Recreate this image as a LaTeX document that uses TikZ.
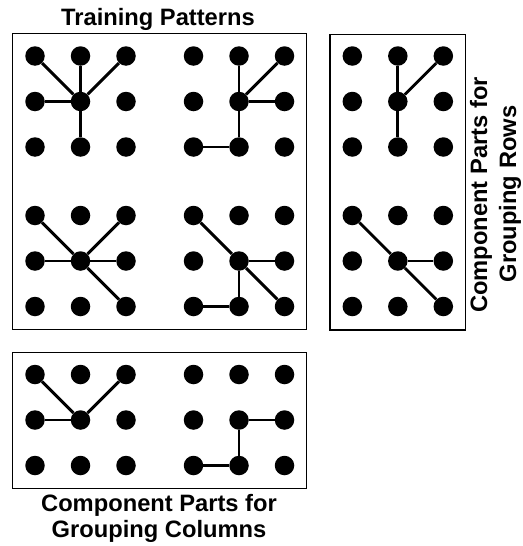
\documentclass[tikz,border=0pt]{standalone}
\usepackage{fontspec}
\setmainfont{Liberation Sans}
\tikzset{
  dot/.style={circle, fill=black, inner sep=0pt, minimum size=19.5pt},
  link/.style={line width=2.9pt},
  frame/.style={draw, line width=1.3pt},
  lbl/.style={font=\bfseries\fontsize{23.7}{27}\selectfont, inner sep=0pt},
}
\newcommand{\dotgrid}[3]{%
  \foreach \r in {1,2,3}{\foreach \c in {1,2,3}{
    \node[dot] (#1-\r-\c) at ({#2+(\c-1)*45.5}, {-(#3+(\r-1)*45.5)}) {};
  }}}
\begin{document}
\begin{tikzpicture}[x=1pt,y=1pt]
\useasboundingbox (0,0) rectangle (522,-546);
% frames
\draw[frame] (12.3,-33.5) rectangle (306.7,-329.5);
\draw[frame] (330,-34.5) rectangle (465.7,-330);
\draw[frame] (12.3,-352.5) rectangle (306.7,-488.3);
% grids
\dotgrid{A}{35}{56}
\dotgrid{B}{193.5}{56}
\dotgrid{C}{35}{215.5}
\dotgrid{D}{193.5}{215.5}
\dotgrid{E}{352.3}{56}
\dotgrid{F}{352.3}{215.5}
\dotgrid{G}{35}{374.5}
\dotgrid{H}{193.5}{374.5}
% connectors
\draw[link] (A-2-2) -- (A-1-1);
\draw[link] (A-2-2) -- (A-1-2);
\draw[link] (A-2-2) -- (A-1-3);
\draw[link] (A-2-2) -- (A-2-1);
\draw[link] (A-2-2) -- (A-3-2);
\draw[link] (B-2-2) -- (B-1-2);
\draw[link] (B-2-2) -- (B-1-3);
\draw[link] (B-2-2) -- (B-2-3);
\draw[link] (B-2-2) -- (B-3-2);
\draw[link] (B-3-2) -- (B-3-1);
\draw[link] (C-2-2) -- (C-1-1);
\draw[link] (C-2-2) -- (C-1-3);
\draw[link] (C-2-2) -- (C-2-1);
\draw[link] (C-2-2) -- (C-2-3);
\draw[link] (C-2-2) -- (C-3-3);
\draw[link] (D-2-2) -- (D-1-1);
\draw[link] (D-2-2) -- (D-2-3);
\draw[link] (D-2-2) -- (D-3-3);
\draw[link] (D-2-2) -- (D-3-2);
\draw[link] (D-3-2) -- (D-3-1);
\draw[link] (E-2-2) -- (E-1-2);
\draw[link] (E-2-2) -- (E-1-3);
\draw[link] (E-2-2) -- (E-3-2);
\draw[link] (F-2-2) -- (F-1-1);
\draw[link] (F-2-2) -- (F-2-3);
\draw[link] (F-2-2) -- (F-3-3);
\draw[link] (G-2-2) -- (G-1-1);
\draw[link] (G-2-2) -- (G-1-3);
\draw[link] (G-2-2) -- (G-2-1);
\draw[link] (H-2-2) -- (H-2-3);
\draw[link] (H-2-2) -- (H-3-2);
\draw[link] (H-3-2) -- (H-3-1);
% labels
\node[lbl, anchor=base] (title) at (158,-25) {Training Patterns};
\node[lbl, anchor=base] (cols1) at (159,-511) {Component Parts for};
\node[lbl, anchor=base] (cols2) at (159,-537) {Grouping Columns};
\node[lbl, anchor=base, rotate=90] (rows1) at (487,-195) {Component Parts for};
\node[lbl, anchor=base, rotate=90] (rows2) at (516,-194) {Grouping Rows};
\end{tikzpicture}
\end{document}
